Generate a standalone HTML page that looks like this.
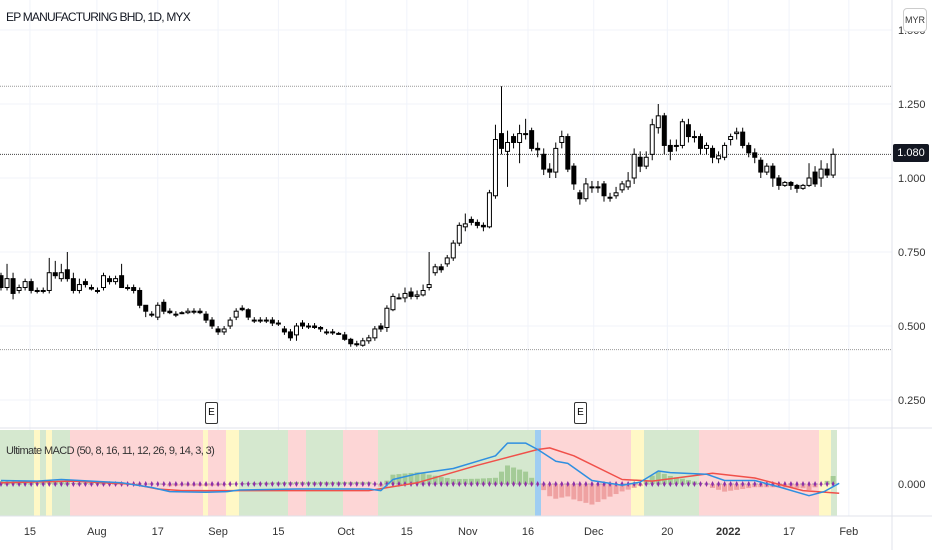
<!DOCTYPE html>
<html><head><meta charset="utf-8"><style>
html,body{margin:0;padding:0;background:#fff;}
body{width:932px;height:550px;overflow:hidden;font-family:"Liberation Sans",sans-serif;}
svg text{font-family:"Liberation Sans",sans-serif;}
</style></head><body>
<svg id="chart" width="932" height="550" xmlns="http://www.w3.org/2000/svg">
<g id="grid"></g>
<g id="bands"></g>
<g id="hist"></g>
<g id="candles"></g>
<g id="macd"></g>
<g id="axes"></g>
</svg>
<script>
const opens =[.67,.63,.66,.62,.63,.65,.62,.62,.62,.68,.66,.69,.66,.62,.65,.63,.62,.63,.66,.65,.67,.63,.63,.62,.57,.54,.53,.58,.55,.54,.545,.545,.55,.55,.54,.52,.49,.48,.50,.53,.56,.555,.52,.52,.52,.52,.51,.49,.48,.47,.51,.50,.50,.495,.48,.48,.475,.47,.455,.44,.435,.45,.46,.50,.495,.555,.595,.595,.615,.60,.605,.63,.68,.70,.71,.73,.78,.835,.86,.85,.84,.835,.94,1.15,1.09,1.14,1.12,1.15,1.16,1.10,1.08,1.03,1.02,1.12,1.14,1.04,.95,.93,.97,.97,.98,.935,.94,.96,.97,1.00,1.07,1.04,1.08,1.17,1.21,1.11,1.11,1.11,1.18,1.14,1.14,1.10,1.10,1.065,1.07,1.13,1.15,1.155,1.11,1.085,1.06,1.02,1.04,1.00,.975,.985,.975,.965,.975,1.02,1.00,1.03,1.01];
const closes=[.63,.66,.61,.63,.65,.62,.62,.62,.68,.67,.68,.66,.62,.64,.64,.625,.62,.67,.65,.66,.63,.63,.62,.57,.55,.54,.57,.55,.545,.54,.545,.55,.55,.545,.52,.50,.48,.49,.52,.55,.555,.53,.52,.52,.52,.51,.51,.48,.46,.50,.50,.50,.495,.49,.48,.48,.475,.455,.44,.44,.45,.46,.49,.49,.56,.60,.595,.61,.60,.605,.62,.64,.70,.69,.73,.78,.84,.845,.85,.84,.835,.95,1.13,1.10,1.12,1.12,1.15,1.15,1.10,1.095,1.03,1.02,1.10,1.14,1.03,.98,.93,.98,.97,.97,.94,.935,.95,.98,.99,1.08,1.04,1.07,1.18,1.21,1.11,1.09,1.11,1.19,1.14,1.14,1.10,1.11,1.07,1.075,1.11,1.14,1.155,1.11,1.085,1.07,1.02,1.04,1.00,.975,.985,.975,.965,.975,1.00,.98,1.03,1.01,1.08];
const highs =[.68,.71,.68,.64,.66,.66,.63,.63,.73,.72,.71,.75,.68,.66,.66,.64,.63,.68,.67,.67,.71,.64,.64,.63,.57,.55,.58,.59,.56,.55,.55,.56,.56,.56,.55,.53,.50,.50,.53,.56,.57,.56,.53,.53,.53,.53,.52,.50,.49,.51,.52,.51,.51,.50,.49,.49,.48,.48,.46,.45,.46,.47,.50,.51,.57,.61,.61,.63,.63,.62,.64,.75,.71,.71,.74,.79,.85,.88,.87,.86,.85,.96,1.18,1.31,1.16,1.15,1.18,1.20,1.17,1.12,1.10,1.05,1.12,1.16,1.15,1.05,.96,1.00,.99,.99,.99,.95,.97,.99,1.02,1.10,1.09,1.09,1.20,1.25,1.22,1.13,1.13,1.20,1.20,1.16,1.15,1.12,1.11,1.09,1.12,1.15,1.17,1.17,1.12,1.10,1.07,1.05,1.05,1.01,.99,.99,.98,.98,1.05,1.04,1.06,1.05,1.10];
const lows  =[.62,.62,.59,.61,.62,.61,.61,.61,.61,.66,.65,.65,.61,.61,.63,.62,.61,.62,.64,.64,.63,.62,.61,.56,.53,.53,.52,.54,.54,.53,.54,.54,.54,.54,.51,.49,.47,.47,.49,.52,.55,.52,.51,.51,.51,.50,.50,.47,.45,.45,.49,.49,.49,.48,.47,.47,.47,.45,.43,.43,.43,.44,.45,.48,.48,.55,.59,.58,.59,.59,.60,.62,.67,.68,.70,.72,.77,.82,.84,.83,.82,.83,.93,1.08,.97,1.10,1.05,1.13,1.09,1.07,1.01,1.00,1.00,1.10,1.02,.96,.91,.92,.95,.95,.92,.92,.93,.95,.96,.98,1.02,1.03,1.06,1.15,1.08,1.06,1.09,1.10,1.12,1.12,1.08,1.08,1.05,1.05,1.06,1.11,1.13,1.10,1.07,1.05,1.00,1.01,.97,.96,.97,.96,.95,.96,.97,.97,.97,1.00,1.00];
const macdIdx=[0,6,10,20,25,28,34,37.5,39.5,49,61,63,65,69,75,82,84,87,89,92,94,98,103,106,109,111,117,120,125,129,134,136.5,139];
const macdVals=[3.7,3,4.7,1.3,-3.7,-8,-8.7,-8,-6.3,-5.3,-5.3,-7,4.7,10.7,16.3,29.7,43,43,36.3,24,21.7,3.7,-1.3,2,13.7,12,10.3,3.7,3.7,-3,-12.3,-8,0.7];
const sigIdx=[0,12,22,26,30,40,61,69,79,89,91,95,103,108,118,125,133,139];
const sigVals=[1.3,3,-0.3,-5.3,-7,-7,-7,1.3,19.7,36.3,38,29.7,4.7,3,11.3,6.3,-7,-9.7];
const bandStarts=[0,34,40,46,52,70,203,208,226,239,288,306,343,378,535,541,631,644,699,819,831];
const bandEnds  =[34,40,46,52,70,203,208,226,239,288,306,343,378,535,541,631,644,699,819,831,837];
const bandKinds =["g","y","g","y","g","r","y","r","y","g","r","g","r","g","b","r","y","g","r","y","g"];
const priceTicks=[1.5,1.25,1.0,0.75,0.5,0.25];
const priceTickLabels=["1.500","1.250","1.000","0.750","0.500","0.250"];
const dateLabels=["15","Aug","17","Sep","15","Oct","15","Nov","16","Dec","20","2022","17","Feb"];
const dateIdx=[4.8,15.9,26,36,46,57.2,67.3,77.4,87.4,98.3,110.5,120.6,130.7,140.6];
const lastPrice=1.08, highLine=1.31, lowLine=0.42;

const NS="http://www.w3.org/2000/svg";
function mk(tag,attrs,parent){const e=document.createElementNS(NS,tag);for(const k in attrs)e.setAttribute(k,attrs[k]);parent.appendChild(e);return e;}
const xOf=i=>1+i*6.03;
const yOf=p=>178-(p-1)*296;
const zeroY=484;
const yM=v=>zeroY-v*0.95;
const G=document.getElementById('grid'),C=document.getElementById('candles'),A=document.getElementById('axes'),B=document.getElementById('bands'),H=document.getElementById('hist'),M=document.getElementById('macd');

priceTicks.forEach((p,k)=>{const l=mk('line',{x1:0,x2:892,y1:yOf(p),y2:yOf(p),stroke:'#f0f3fa','stroke-width':1},G);

});
dateIdx.forEach(i=>{const l=mk('line',{x1:xOf(i),x2:xOf(i),y1:0,y2:516,stroke:'#f0f3fa','stroke-width':1},G);

});
[[highLine,'#999'],[lowLine,'#999'],[lastPrice,'#444']].forEach(([p,c])=>{const l=mk('line',{x1:0,x2:892,y1:yOf(p),y2:yOf(p),stroke:c,'stroke-width':1,'stroke-dasharray':'1 1'},G);

});

opens.forEach((o,i)=>{const c=closes[i],x=xOf(i),up=c>=o;
const w=mk('line',{x1:x,x2:x,y1:yOf(highs[i]),y2:yOf(lows[i]),stroke:'#000','stroke-width':1},C);


const t=yOf(Math.max(o,c)),b=yOf(Math.min(o,c));
const r=mk('rect',{x:x-2,y:t,width:4,height:Math.max(1,b-t),fill:up?'#fff':'#000',stroke:'#000','stroke-width':1},C);

});

const bandCol={g:'#d5e8cf',y:'#fff8c6',r:'#fdd6d6',b:'#9fcdf2'};
bandStarts.forEach((s,k)=>{const r=mk('rect',{x:s,y:430,width:bandEnds[k]-s,height:86,fill:bandCol[bandKinds[k]]},B);

});
function interp(idx,vals,i){if(i<=idx[0])return vals[0];for(let k=1;k<idx.length;k++){if(i<=idx[k]){const t=(i-idx[k-1])/(idx[k]-idx[k-1]);return vals[k-1]+t*(vals[k]-vals[k-1]);}}return vals[vals.length-1];}
opens.forEach((_,i)=>{const h=(interp(macdIdx,macdVals,i)-interp(sigIdx,sigVals,i))*1.3;const y=yM(Math.max(0,h)),hh=Math.abs(h)*0.95;
const r=mk('rect',{x:xOf(i)-2.5,y:y,width:5,height:Math.max(0.5,hh),fill:h>=0?'#8fbf7f':'#e88b8b',opacity:0.7},H);

});
const zl=mk('line',{x1:0,x2:837,y1:zeroY,y2:zeroY,stroke:'#aaa','stroke-width':1,'stroke-dasharray':'2 2'},M);


opens.forEach((_,i)=>{const x=xOf(i);const d=mk('path',{d:`M${x} ${zeroY-3}L${x+1.5} ${zeroY}L${x} ${zeroY+3}L${x-1.5} ${zeroY}Z`,fill:'#8e2fa8'},M);

});
function poly(idx,vals,col,name){let d='';idx.forEach((i,k)=>{d+=(k?'L':'M')+xOf(i).toFixed(1)+' '+yM(vals[k]).toFixed(1);});
const p=mk('path',{d:d,fill:'none',stroke:col,'stroke-width':1.5,'stroke-linejoin':'round'},M);

}
poly(sigIdx,sigVals,'#f0504a','signal-line');
poly(macdIdx,macdVals,'#2f8fe0','macd-line');

const sep=mk('line',{x1:892,x2:892,y1:0,y2:550,stroke:'#e0e3eb'},A);


[428,516].forEach(y=>{const l=mk('line',{x1:0,x2:932,y1:y,y2:y,stroke:'#e0e3eb'},A);

});
priceTicks.forEach((p,k)=>{const t=mk('text',{x:898,y:yOf(p)+4,'font-size':11,fill:'#333'},A);t.textContent=priceTickLabels[k];

});
dateIdx.forEach((i,k)=>{const t=mk('text',{x:xOf(i),y:535,'font-size':11,fill:'#333','text-anchor':'middle','font-weight':dateLabels[k]==='2022'?'bold':'normal'},A);t.textContent=dateLabels[k];

});
const zt=mk('text',{x:898,y:488,'font-size':11,fill:'#333'},A);zt.textContent='0.000';


</script>
<div style="position:absolute;left:6px;top:10px;font-size:12px;color:#131722;letter-spacing:-0.8px;">EP MANUFACTURING BHD, 1D, MYX</div>
<div style="position:absolute;left:903px;top:8px;width:22px;height:22px;border:1px solid #ccc;border-radius:4px;background:#fff;font-size:9px;line-height:22px;text-align:center;color:#333;">MYR</div>
<div style="position:absolute;left:893px;top:144px;width:36px;height:18px;background:#131722;color:#fff;font-size:11px;line-height:18px;text-align:center;border-radius:2px;">1.080</div>
<div style="position:absolute;left:205px;top:402px;width:11px;height:20px;border:1px solid #333;border-radius:2px;background:#fff;font-size:10px;line-height:20px;text-align:center;">E</div>
<div style="position:absolute;left:574px;top:402px;width:11px;height:20px;border:1px solid #333;border-radius:2px;background:#fff;font-size:10px;line-height:20px;text-align:center;">E</div>
<div style="position:absolute;left:6px;top:445px;font-size:11px;color:#333;letter-spacing:-0.6px;">Ultimate MACD (50, 8, 16, 11, 12, 26, 9, 14, 3, 3)</div>
</body></html>
